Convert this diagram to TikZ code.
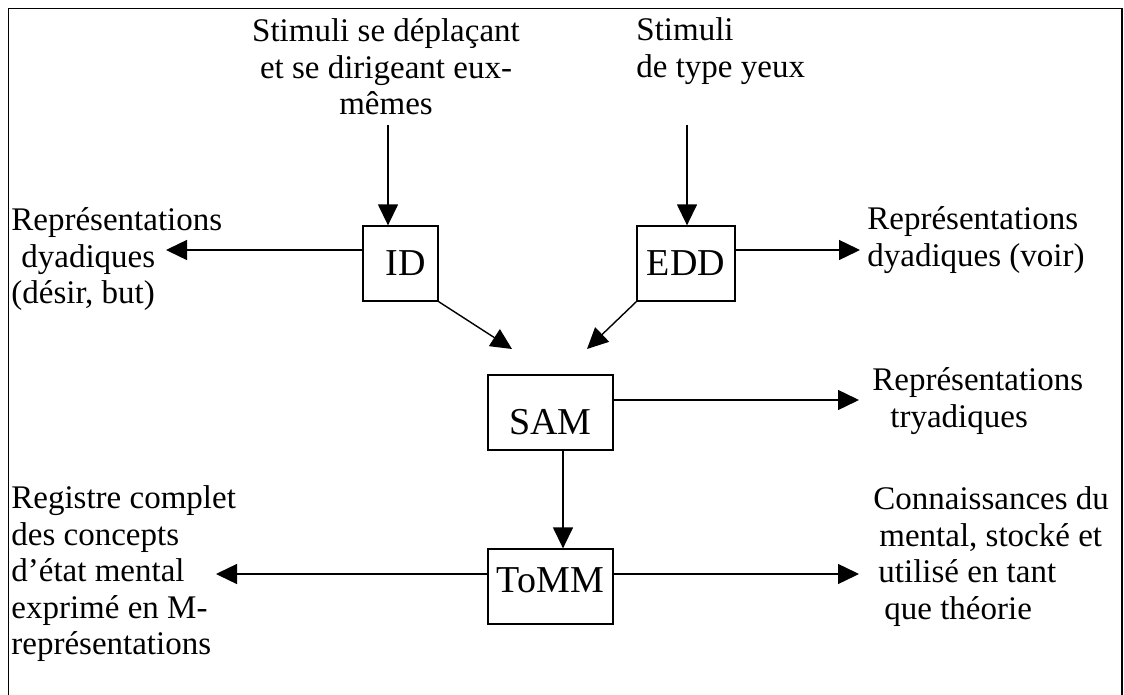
\documentclass[tikz,border=0pt]{standalone}
\usepackage{fontspec}
\setmainfont{Liberation Serif}
\usetikzlibrary{arrows.meta,calc}

\begin{document}
\begin{tikzpicture}[x=0.5pt,y=-0.5pt,
  box/.style={draw,line width=0.65pt,inner sep=0pt,minimum height=37.5pt,font=\fontsize{19pt}{22pt}\selectfont},
  txt/.style={inner sep=0pt,font=\fontsize{16.5pt}{18.25pt}\selectfont},
  arr/.style={line width=0.7pt,-{Triangle[length=10.5pt,width=10pt]}}]
\useasboundingbox (0,0) rectangle (1124,695);
\draw[line width=0.6pt] (8.5,695) -- (8.5,8.5) -- (1122,8.5) -- (1122,695);

\node[txt,align=center,anchor=north] (stimA) at (386,18.5) {Stimuli se déplaçant\\et se dirigeant eux-\\mêmes};
\node[txt,align=left,anchor=north west] (stimB) at (636,17.5) {Stimuli\\de type yeux};

\node[box,minimum width=37.5pt] (ID) at (400.5,263.5) {\hspace*{5pt}ID};
\node[box,minimum width=49pt] (EDD) at (686,263.5) {EDD};
\node[box,minimum width=62.5pt,text height=21.5pt,text depth=0pt] (SAM) at (550.5,412.5) {SAM};
\node[box,minimum width=62.5pt,text height=12.5pt,text depth=7pt] (ToMM) at (550.5,586.5) {ToMM};

\node[txt,align=left,anchor=north west] (dyadA) at (11,207.5) {Représentations\\\hspace*{5pt}dyadiques\\(désir, but)};
\node[txt,align=left,anchor=north west] (dyadB) at (867,206.5) {Représentations\\dyadiques (voir)};
\node[txt,align=left,anchor=north west] (tryad) at (872,367.5) {Représentations\\\hspace*{9pt}tryadiques};
\node[txt,align=left,anchor=north west] (regist) at (11,485.5) {Registre complet\\des concepts\\d’état mental\\exprimé en M-\\représentations};
\node[txt,align=left,anchor=north west] (connais) at (873,486.5) {Connaissances du\\\hspace*{3pt}mental, stocké et\\\hspace*{2.5pt}utilisé en tant\\\hspace*{5.5pt}que théorie};

\coordinate (inA) at (388,125);
\coordinate (inB) at (687,125);
\coordinate (outID) at (166,250);
\coordinate (outEDD) at (860,250);
\coordinate (toSAMa) at (512,349);
\coordinate (toSAMb) at (587,349);
\coordinate (outSAM) at (859,400);
\coordinate (outToMMl) at (216,574);
\coordinate (outToMMr) at (859,574);

\draw[arr] (inA) -- (inA |- ID.north);
\draw[arr] (inB) -- (inB |- EDD.north);
\draw[arr] (outID -| ID.west) -- (outID);
\draw[arr] (outEDD -| EDD.east) -- (outEDD);
\draw[arr] (ID.south east) -- (toSAMa);
\draw[arr] (EDD.south west) -- (toSAMb);
\draw[arr] (outSAM -| SAM.east) -- (outSAM);
\draw[arr] ([xshift=6.25pt]SAM.south) -- ([xshift=6.25pt]ToMM.north);
\draw[arr] (outToMMl -| ToMM.west) -- (outToMMl);
\draw[arr] (outToMMr -| ToMM.east) -- (outToMMr);
\end{tikzpicture}
\end{document}
